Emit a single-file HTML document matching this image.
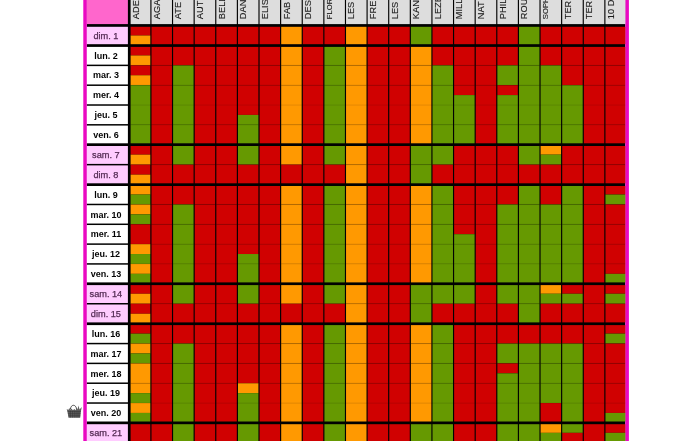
<!DOCTYPE html>
<html><head><meta charset="utf-8"><title>Planning</title>
<style>html,body{margin:0;padding:0;background:#fff;overflow:hidden}body{width:700px;height:441px;font-family:"Liberation Sans",sans-serif}</style></head>
<body>
<svg width="700" height="441" viewBox="0 0 700 441" style="display:block;opacity:0.999">
<defs><filter id="b" color-interpolation-filters="sRGB" filterUnits="userSpaceOnUse" x="-20" y="-20" width="740" height="481"><feGaussianBlur stdDeviation="0.42"/></filter></defs>
<rect x="0" y="0" width="700" height="441" fill="#fff"/>
<g filter="url(#b)">
<rect x="-10" y="-10" width="720" height="461" fill="#fff"/>
<rect x="86.85" y="-8" width="538.450" height="457" fill="#000"/>
<rect x="83.3" y="-8" width="3.55" height="457" fill="#ea08c2"/>
<rect x="625.3" y="-8" width="3.6" height="457" fill="#ea08c2"/>
<rect x="86.85" y="-8" width="41.050" height="32.100" fill="#ff66cc"/>
<rect x="86.85" y="26.800" width="41.050" height="17.400" fill="#ffccff"/>
<rect x="86.85" y="46.900" width="41.050" height="17.720" fill="#fff"/>
<rect x="86.85" y="66.120" width="41.050" height="18.320" fill="#fff"/>
<rect x="86.85" y="85.940" width="41.050" height="18.320" fill="#fff"/>
<rect x="86.85" y="105.760" width="41.050" height="18.320" fill="#fff"/>
<rect x="86.85" y="125.580" width="41.050" height="17.720" fill="#fff"/>
<rect x="86.85" y="146.000" width="41.050" height="17.900" fill="#ffccff"/>
<rect x="86.85" y="165.400" width="41.050" height="17.900" fill="#ffccff"/>
<rect x="86.85" y="186.000" width="41.050" height="17.720" fill="#fff"/>
<rect x="86.85" y="205.220" width="41.050" height="18.320" fill="#fff"/>
<rect x="86.85" y="225.040" width="41.050" height="18.320" fill="#fff"/>
<rect x="86.85" y="244.860" width="41.050" height="18.320" fill="#fff"/>
<rect x="86.85" y="264.680" width="41.050" height="17.720" fill="#fff"/>
<rect x="86.85" y="285.100" width="41.050" height="17.900" fill="#ffccff"/>
<rect x="86.85" y="304.500" width="41.050" height="17.900" fill="#ffccff"/>
<rect x="86.85" y="325.100" width="41.050" height="17.720" fill="#fff"/>
<rect x="86.85" y="344.320" width="41.050" height="18.320" fill="#fff"/>
<rect x="86.85" y="364.140" width="41.050" height="18.320" fill="#fff"/>
<rect x="86.85" y="383.960" width="41.050" height="18.320" fill="#fff"/>
<rect x="86.85" y="403.780" width="41.050" height="17.720" fill="#fff"/>
<rect x="86.85" y="424.200" width="41.050" height="17.900" fill="#ffccff"/>
<rect x="130.600" y="-8" width="19.742" height="32.100" fill="#dddddd"/>
<rect x="130.600" y="26.800" width="19.742" height="8.700" fill="#d00000"/>
<rect x="130.600" y="35.500" width="19.742" height="8.700" fill="#ff9900"/>
<rect x="130.600" y="46.900" width="19.742" height="8.560" fill="#d00000"/>
<rect x="130.600" y="55.460" width="19.742" height="9.910" fill="#ff9900"/>
<rect x="130.600" y="65.370" width="19.742" height="9.910" fill="#d00000"/>
<rect x="130.600" y="75.280" width="19.742" height="9.910" fill="#ff9900"/>
<rect x="130.600" y="85.190" width="19.742" height="19.820" fill="#669900"/>
<rect x="130.600" y="105.010" width="19.742" height="19.820" fill="#669900"/>
<rect x="130.600" y="124.830" width="19.742" height="18.470" fill="#669900"/>
<rect x="130.600" y="146.000" width="19.742" height="8.650" fill="#d00000"/>
<rect x="130.600" y="154.650" width="19.742" height="10.000" fill="#ff9900"/>
<rect x="130.600" y="164.650" width="19.742" height="10.000" fill="#d00000"/>
<rect x="130.600" y="174.650" width="19.742" height="8.650" fill="#ff9900"/>
<rect x="130.600" y="186.000" width="19.742" height="8.560" fill="#ff9900"/>
<rect x="130.600" y="194.560" width="19.742" height="9.910" fill="#669900"/>
<rect x="130.600" y="204.470" width="19.742" height="9.910" fill="#ff9900"/>
<rect x="130.600" y="214.380" width="19.742" height="9.910" fill="#669900"/>
<rect x="130.600" y="224.290" width="19.742" height="19.820" fill="#d00000"/>
<rect x="130.600" y="244.110" width="19.742" height="9.910" fill="#ff9900"/>
<rect x="130.600" y="254.020" width="19.742" height="9.910" fill="#669900"/>
<rect x="130.600" y="263.930" width="19.742" height="9.910" fill="#ff9900"/>
<rect x="130.600" y="273.840" width="19.742" height="8.560" fill="#669900"/>
<rect x="130.600" y="285.100" width="19.742" height="8.650" fill="#d00000"/>
<rect x="130.600" y="293.750" width="19.742" height="10.000" fill="#ff9900"/>
<rect x="130.600" y="303.750" width="19.742" height="10.000" fill="#d00000"/>
<rect x="130.600" y="313.750" width="19.742" height="8.650" fill="#ff9900"/>
<rect x="130.600" y="325.100" width="19.742" height="8.560" fill="#d00000"/>
<rect x="130.600" y="333.660" width="19.742" height="9.910" fill="#669900"/>
<rect x="130.600" y="343.570" width="19.742" height="9.910" fill="#ff9900"/>
<rect x="130.600" y="353.480" width="19.742" height="9.910" fill="#669900"/>
<rect x="130.600" y="363.390" width="19.742" height="19.820" fill="#ff9900"/>
<rect x="130.600" y="383.210" width="19.742" height="9.910" fill="#ff9900"/>
<rect x="130.600" y="393.120" width="19.742" height="9.910" fill="#669900"/>
<rect x="130.600" y="403.030" width="19.742" height="9.910" fill="#ff9900"/>
<rect x="130.600" y="412.940" width="19.742" height="8.560" fill="#669900"/>
<rect x="130.600" y="424.200" width="19.742" height="18.650" fill="#d00000"/>
<rect x="151.492" y="-8" width="20.467" height="32.100" fill="#dddddd"/>
<rect x="151.492" y="26.800" width="20.467" height="17.400" fill="#d00000"/>
<rect x="151.492" y="46.900" width="20.467" height="18.470" fill="#d00000"/>
<rect x="151.492" y="65.370" width="20.467" height="19.820" fill="#d00000"/>
<rect x="151.492" y="85.190" width="20.467" height="19.820" fill="#d00000"/>
<rect x="151.492" y="105.010" width="20.467" height="19.820" fill="#d00000"/>
<rect x="151.492" y="124.830" width="20.467" height="18.470" fill="#d00000"/>
<rect x="151.492" y="146.000" width="20.467" height="18.650" fill="#d00000"/>
<rect x="151.492" y="164.650" width="20.467" height="18.650" fill="#d00000"/>
<rect x="151.492" y="186.000" width="20.467" height="18.470" fill="#d00000"/>
<rect x="151.492" y="204.470" width="20.467" height="19.820" fill="#d00000"/>
<rect x="151.492" y="224.290" width="20.467" height="19.820" fill="#d00000"/>
<rect x="151.492" y="244.110" width="20.467" height="19.820" fill="#d00000"/>
<rect x="151.492" y="263.930" width="20.467" height="18.470" fill="#d00000"/>
<rect x="151.492" y="285.100" width="20.467" height="18.650" fill="#d00000"/>
<rect x="151.492" y="303.750" width="20.467" height="18.650" fill="#d00000"/>
<rect x="151.492" y="325.100" width="20.467" height="18.470" fill="#d00000"/>
<rect x="151.492" y="343.570" width="20.467" height="19.820" fill="#d00000"/>
<rect x="151.492" y="363.390" width="20.467" height="19.820" fill="#d00000"/>
<rect x="151.492" y="383.210" width="20.467" height="19.820" fill="#d00000"/>
<rect x="151.492" y="403.030" width="20.467" height="18.470" fill="#d00000"/>
<rect x="151.492" y="424.200" width="20.467" height="18.650" fill="#d00000"/>
<rect x="173.109" y="-8" width="20.467" height="32.100" fill="#dddddd"/>
<rect x="173.109" y="26.800" width="20.467" height="17.400" fill="#d00000"/>
<rect x="173.109" y="46.900" width="20.467" height="18.470" fill="#d00000"/>
<rect x="173.109" y="65.370" width="20.467" height="19.820" fill="#669900"/>
<rect x="173.109" y="85.190" width="20.467" height="19.820" fill="#669900"/>
<rect x="173.109" y="105.010" width="20.467" height="19.820" fill="#669900"/>
<rect x="173.109" y="124.830" width="20.467" height="18.470" fill="#669900"/>
<rect x="173.109" y="146.000" width="20.467" height="18.650" fill="#669900"/>
<rect x="173.109" y="164.650" width="20.467" height="18.650" fill="#d00000"/>
<rect x="173.109" y="186.000" width="20.467" height="18.470" fill="#d00000"/>
<rect x="173.109" y="204.470" width="20.467" height="19.820" fill="#669900"/>
<rect x="173.109" y="224.290" width="20.467" height="19.820" fill="#669900"/>
<rect x="173.109" y="244.110" width="20.467" height="19.820" fill="#669900"/>
<rect x="173.109" y="263.930" width="20.467" height="18.470" fill="#669900"/>
<rect x="173.109" y="285.100" width="20.467" height="18.650" fill="#669900"/>
<rect x="173.109" y="303.750" width="20.467" height="18.650" fill="#d00000"/>
<rect x="173.109" y="325.100" width="20.467" height="18.470" fill="#d00000"/>
<rect x="173.109" y="343.570" width="20.467" height="19.820" fill="#669900"/>
<rect x="173.109" y="363.390" width="20.467" height="19.820" fill="#669900"/>
<rect x="173.109" y="383.210" width="20.467" height="19.820" fill="#669900"/>
<rect x="173.109" y="403.030" width="20.467" height="18.470" fill="#669900"/>
<rect x="173.109" y="424.200" width="20.467" height="18.650" fill="#669900"/>
<rect x="194.726" y="-8" width="20.467" height="32.100" fill="#dddddd"/>
<rect x="194.726" y="26.800" width="20.467" height="17.400" fill="#d00000"/>
<rect x="194.726" y="46.900" width="20.467" height="18.470" fill="#d00000"/>
<rect x="194.726" y="65.370" width="20.467" height="19.820" fill="#d00000"/>
<rect x="194.726" y="85.190" width="20.467" height="19.820" fill="#d00000"/>
<rect x="194.726" y="105.010" width="20.467" height="19.820" fill="#d00000"/>
<rect x="194.726" y="124.830" width="20.467" height="18.470" fill="#d00000"/>
<rect x="194.726" y="146.000" width="20.467" height="18.650" fill="#d00000"/>
<rect x="194.726" y="164.650" width="20.467" height="18.650" fill="#d00000"/>
<rect x="194.726" y="186.000" width="20.467" height="18.470" fill="#d00000"/>
<rect x="194.726" y="204.470" width="20.467" height="19.820" fill="#d00000"/>
<rect x="194.726" y="224.290" width="20.467" height="19.820" fill="#d00000"/>
<rect x="194.726" y="244.110" width="20.467" height="19.820" fill="#d00000"/>
<rect x="194.726" y="263.930" width="20.467" height="18.470" fill="#d00000"/>
<rect x="194.726" y="285.100" width="20.467" height="18.650" fill="#d00000"/>
<rect x="194.726" y="303.750" width="20.467" height="18.650" fill="#d00000"/>
<rect x="194.726" y="325.100" width="20.467" height="18.470" fill="#d00000"/>
<rect x="194.726" y="343.570" width="20.467" height="19.820" fill="#d00000"/>
<rect x="194.726" y="363.390" width="20.467" height="19.820" fill="#d00000"/>
<rect x="194.726" y="383.210" width="20.467" height="19.820" fill="#d00000"/>
<rect x="194.726" y="403.030" width="20.467" height="18.470" fill="#d00000"/>
<rect x="194.726" y="424.200" width="20.467" height="18.650" fill="#d00000"/>
<rect x="216.343" y="-8" width="20.467" height="32.100" fill="#dddddd"/>
<rect x="216.343" y="26.800" width="20.467" height="17.400" fill="#d00000"/>
<rect x="216.343" y="46.900" width="20.467" height="18.470" fill="#d00000"/>
<rect x="216.343" y="65.370" width="20.467" height="19.820" fill="#d00000"/>
<rect x="216.343" y="85.190" width="20.467" height="19.820" fill="#d00000"/>
<rect x="216.343" y="105.010" width="20.467" height="19.820" fill="#d00000"/>
<rect x="216.343" y="124.830" width="20.467" height="18.470" fill="#d00000"/>
<rect x="216.343" y="146.000" width="20.467" height="18.650" fill="#d00000"/>
<rect x="216.343" y="164.650" width="20.467" height="18.650" fill="#d00000"/>
<rect x="216.343" y="186.000" width="20.467" height="18.470" fill="#d00000"/>
<rect x="216.343" y="204.470" width="20.467" height="19.820" fill="#d00000"/>
<rect x="216.343" y="224.290" width="20.467" height="19.820" fill="#d00000"/>
<rect x="216.343" y="244.110" width="20.467" height="19.820" fill="#d00000"/>
<rect x="216.343" y="263.930" width="20.467" height="18.470" fill="#d00000"/>
<rect x="216.343" y="285.100" width="20.467" height="18.650" fill="#d00000"/>
<rect x="216.343" y="303.750" width="20.467" height="18.650" fill="#d00000"/>
<rect x="216.343" y="325.100" width="20.467" height="18.470" fill="#d00000"/>
<rect x="216.343" y="343.570" width="20.467" height="19.820" fill="#d00000"/>
<rect x="216.343" y="363.390" width="20.467" height="19.820" fill="#d00000"/>
<rect x="216.343" y="383.210" width="20.467" height="19.820" fill="#d00000"/>
<rect x="216.343" y="403.030" width="20.467" height="18.470" fill="#d00000"/>
<rect x="216.343" y="424.200" width="20.467" height="18.650" fill="#d00000"/>
<rect x="237.960" y="-8" width="20.467" height="32.100" fill="#dddddd"/>
<rect x="237.960" y="26.800" width="20.467" height="17.400" fill="#d00000"/>
<rect x="237.960" y="46.900" width="20.467" height="18.470" fill="#d00000"/>
<rect x="237.960" y="65.370" width="20.467" height="19.820" fill="#d00000"/>
<rect x="237.960" y="85.190" width="20.467" height="19.820" fill="#d00000"/>
<rect x="237.960" y="105.010" width="20.467" height="9.910" fill="#d00000"/>
<rect x="237.960" y="114.920" width="20.467" height="9.910" fill="#669900"/>
<rect x="237.960" y="124.830" width="20.467" height="18.470" fill="#669900"/>
<rect x="237.960" y="146.000" width="20.467" height="18.650" fill="#669900"/>
<rect x="237.960" y="164.650" width="20.467" height="18.650" fill="#d00000"/>
<rect x="237.960" y="186.000" width="20.467" height="18.470" fill="#d00000"/>
<rect x="237.960" y="204.470" width="20.467" height="19.820" fill="#d00000"/>
<rect x="237.960" y="224.290" width="20.467" height="19.820" fill="#d00000"/>
<rect x="237.960" y="244.110" width="20.467" height="9.910" fill="#d00000"/>
<rect x="237.960" y="254.020" width="20.467" height="9.910" fill="#669900"/>
<rect x="237.960" y="263.930" width="20.467" height="18.470" fill="#669900"/>
<rect x="237.960" y="285.100" width="20.467" height="18.650" fill="#669900"/>
<rect x="237.960" y="303.750" width="20.467" height="18.650" fill="#d00000"/>
<rect x="237.960" y="325.100" width="20.467" height="18.470" fill="#d00000"/>
<rect x="237.960" y="343.570" width="20.467" height="19.820" fill="#d00000"/>
<rect x="237.960" y="363.390" width="20.467" height="19.820" fill="#d00000"/>
<rect x="237.960" y="383.210" width="20.467" height="9.910" fill="#ff9900"/>
<rect x="237.960" y="393.120" width="20.467" height="9.910" fill="#669900"/>
<rect x="237.960" y="403.030" width="20.467" height="18.470" fill="#669900"/>
<rect x="237.960" y="424.200" width="20.467" height="18.650" fill="#669900"/>
<rect x="259.577" y="-8" width="20.467" height="32.100" fill="#dddddd"/>
<rect x="259.577" y="26.800" width="20.467" height="17.400" fill="#d00000"/>
<rect x="259.577" y="46.900" width="20.467" height="18.470" fill="#d00000"/>
<rect x="259.577" y="65.370" width="20.467" height="19.820" fill="#d00000"/>
<rect x="259.577" y="85.190" width="20.467" height="19.820" fill="#d00000"/>
<rect x="259.577" y="105.010" width="20.467" height="19.820" fill="#d00000"/>
<rect x="259.577" y="124.830" width="20.467" height="18.470" fill="#d00000"/>
<rect x="259.577" y="146.000" width="20.467" height="18.650" fill="#d00000"/>
<rect x="259.577" y="164.650" width="20.467" height="18.650" fill="#d00000"/>
<rect x="259.577" y="186.000" width="20.467" height="18.470" fill="#d00000"/>
<rect x="259.577" y="204.470" width="20.467" height="19.820" fill="#d00000"/>
<rect x="259.577" y="224.290" width="20.467" height="19.820" fill="#d00000"/>
<rect x="259.577" y="244.110" width="20.467" height="19.820" fill="#d00000"/>
<rect x="259.577" y="263.930" width="20.467" height="18.470" fill="#d00000"/>
<rect x="259.577" y="285.100" width="20.467" height="18.650" fill="#d00000"/>
<rect x="259.577" y="303.750" width="20.467" height="18.650" fill="#d00000"/>
<rect x="259.577" y="325.100" width="20.467" height="18.470" fill="#d00000"/>
<rect x="259.577" y="343.570" width="20.467" height="19.820" fill="#d00000"/>
<rect x="259.577" y="363.390" width="20.467" height="19.820" fill="#d00000"/>
<rect x="259.577" y="383.210" width="20.467" height="19.820" fill="#d00000"/>
<rect x="259.577" y="403.030" width="20.467" height="18.470" fill="#d00000"/>
<rect x="259.577" y="424.200" width="20.467" height="18.650" fill="#d00000"/>
<rect x="281.194" y="-8" width="20.467" height="32.100" fill="#dddddd"/>
<rect x="281.194" y="26.800" width="20.467" height="17.400" fill="#ff9900"/>
<rect x="281.194" y="46.900" width="20.467" height="18.470" fill="#ff9900"/>
<rect x="281.194" y="65.370" width="20.467" height="19.820" fill="#ff9900"/>
<rect x="281.194" y="85.190" width="20.467" height="19.820" fill="#ff9900"/>
<rect x="281.194" y="105.010" width="20.467" height="19.820" fill="#ff9900"/>
<rect x="281.194" y="124.830" width="20.467" height="18.470" fill="#ff9900"/>
<rect x="281.194" y="146.000" width="20.467" height="18.650" fill="#ff9900"/>
<rect x="281.194" y="164.650" width="20.467" height="18.650" fill="#d00000"/>
<rect x="281.194" y="186.000" width="20.467" height="18.470" fill="#ff9900"/>
<rect x="281.194" y="204.470" width="20.467" height="19.820" fill="#ff9900"/>
<rect x="281.194" y="224.290" width="20.467" height="19.820" fill="#ff9900"/>
<rect x="281.194" y="244.110" width="20.467" height="19.820" fill="#ff9900"/>
<rect x="281.194" y="263.930" width="20.467" height="18.470" fill="#ff9900"/>
<rect x="281.194" y="285.100" width="20.467" height="18.650" fill="#ff9900"/>
<rect x="281.194" y="303.750" width="20.467" height="18.650" fill="#d00000"/>
<rect x="281.194" y="325.100" width="20.467" height="18.470" fill="#ff9900"/>
<rect x="281.194" y="343.570" width="20.467" height="19.820" fill="#ff9900"/>
<rect x="281.194" y="363.390" width="20.467" height="19.820" fill="#ff9900"/>
<rect x="281.194" y="383.210" width="20.467" height="19.820" fill="#ff9900"/>
<rect x="281.194" y="403.030" width="20.467" height="18.470" fill="#ff9900"/>
<rect x="281.194" y="424.200" width="20.467" height="18.650" fill="#ff9900"/>
<rect x="302.811" y="-8" width="20.467" height="32.100" fill="#dddddd"/>
<rect x="302.811" y="26.800" width="20.467" height="17.400" fill="#d00000"/>
<rect x="302.811" y="46.900" width="20.467" height="18.470" fill="#d00000"/>
<rect x="302.811" y="65.370" width="20.467" height="19.820" fill="#d00000"/>
<rect x="302.811" y="85.190" width="20.467" height="19.820" fill="#d00000"/>
<rect x="302.811" y="105.010" width="20.467" height="19.820" fill="#d00000"/>
<rect x="302.811" y="124.830" width="20.467" height="18.470" fill="#d00000"/>
<rect x="302.811" y="146.000" width="20.467" height="18.650" fill="#d00000"/>
<rect x="302.811" y="164.650" width="20.467" height="18.650" fill="#d00000"/>
<rect x="302.811" y="186.000" width="20.467" height="18.470" fill="#d00000"/>
<rect x="302.811" y="204.470" width="20.467" height="19.820" fill="#d00000"/>
<rect x="302.811" y="224.290" width="20.467" height="19.820" fill="#d00000"/>
<rect x="302.811" y="244.110" width="20.467" height="19.820" fill="#d00000"/>
<rect x="302.811" y="263.930" width="20.467" height="18.470" fill="#d00000"/>
<rect x="302.811" y="285.100" width="20.467" height="18.650" fill="#d00000"/>
<rect x="302.811" y="303.750" width="20.467" height="18.650" fill="#d00000"/>
<rect x="302.811" y="325.100" width="20.467" height="18.470" fill="#d00000"/>
<rect x="302.811" y="343.570" width="20.467" height="19.820" fill="#d00000"/>
<rect x="302.811" y="363.390" width="20.467" height="19.820" fill="#d00000"/>
<rect x="302.811" y="383.210" width="20.467" height="19.820" fill="#d00000"/>
<rect x="302.811" y="403.030" width="20.467" height="18.470" fill="#d00000"/>
<rect x="302.811" y="424.200" width="20.467" height="18.650" fill="#d00000"/>
<rect x="324.428" y="-8" width="20.467" height="32.100" fill="#dddddd"/>
<rect x="324.428" y="26.800" width="20.467" height="17.400" fill="#d00000"/>
<rect x="324.428" y="46.900" width="20.467" height="18.470" fill="#669900"/>
<rect x="324.428" y="65.370" width="20.467" height="19.820" fill="#669900"/>
<rect x="324.428" y="85.190" width="20.467" height="19.820" fill="#669900"/>
<rect x="324.428" y="105.010" width="20.467" height="19.820" fill="#669900"/>
<rect x="324.428" y="124.830" width="20.467" height="18.470" fill="#669900"/>
<rect x="324.428" y="146.000" width="20.467" height="18.650" fill="#669900"/>
<rect x="324.428" y="164.650" width="20.467" height="18.650" fill="#d00000"/>
<rect x="324.428" y="186.000" width="20.467" height="18.470" fill="#669900"/>
<rect x="324.428" y="204.470" width="20.467" height="19.820" fill="#669900"/>
<rect x="324.428" y="224.290" width="20.467" height="19.820" fill="#669900"/>
<rect x="324.428" y="244.110" width="20.467" height="19.820" fill="#669900"/>
<rect x="324.428" y="263.930" width="20.467" height="18.470" fill="#669900"/>
<rect x="324.428" y="285.100" width="20.467" height="18.650" fill="#669900"/>
<rect x="324.428" y="303.750" width="20.467" height="18.650" fill="#d00000"/>
<rect x="324.428" y="325.100" width="20.467" height="18.470" fill="#669900"/>
<rect x="324.428" y="343.570" width="20.467" height="19.820" fill="#669900"/>
<rect x="324.428" y="363.390" width="20.467" height="19.820" fill="#669900"/>
<rect x="324.428" y="383.210" width="20.467" height="19.820" fill="#669900"/>
<rect x="324.428" y="403.030" width="20.467" height="18.470" fill="#669900"/>
<rect x="324.428" y="424.200" width="20.467" height="18.650" fill="#669900"/>
<rect x="346.045" y="-8" width="20.467" height="32.100" fill="#dddddd"/>
<rect x="346.045" y="26.800" width="20.467" height="17.400" fill="#ff9900"/>
<rect x="346.045" y="46.900" width="20.467" height="18.470" fill="#ff9900"/>
<rect x="346.045" y="65.370" width="20.467" height="19.820" fill="#ff9900"/>
<rect x="346.045" y="85.190" width="20.467" height="19.820" fill="#ff9900"/>
<rect x="346.045" y="105.010" width="20.467" height="19.820" fill="#ff9900"/>
<rect x="346.045" y="124.830" width="20.467" height="18.470" fill="#ff9900"/>
<rect x="346.045" y="146.000" width="20.467" height="18.650" fill="#ff9900"/>
<rect x="346.045" y="164.650" width="20.467" height="18.650" fill="#ff9900"/>
<rect x="346.045" y="186.000" width="20.467" height="18.470" fill="#ff9900"/>
<rect x="346.045" y="204.470" width="20.467" height="19.820" fill="#ff9900"/>
<rect x="346.045" y="224.290" width="20.467" height="19.820" fill="#ff9900"/>
<rect x="346.045" y="244.110" width="20.467" height="19.820" fill="#ff9900"/>
<rect x="346.045" y="263.930" width="20.467" height="18.470" fill="#ff9900"/>
<rect x="346.045" y="285.100" width="20.467" height="18.650" fill="#ff9900"/>
<rect x="346.045" y="303.750" width="20.467" height="18.650" fill="#ff9900"/>
<rect x="346.045" y="325.100" width="20.467" height="18.470" fill="#ff9900"/>
<rect x="346.045" y="343.570" width="20.467" height="19.820" fill="#ff9900"/>
<rect x="346.045" y="363.390" width="20.467" height="19.820" fill="#ff9900"/>
<rect x="346.045" y="383.210" width="20.467" height="19.820" fill="#ff9900"/>
<rect x="346.045" y="403.030" width="20.467" height="18.470" fill="#ff9900"/>
<rect x="346.045" y="424.200" width="20.467" height="18.650" fill="#ff9900"/>
<rect x="367.662" y="-8" width="20.467" height="32.100" fill="#dddddd"/>
<rect x="367.662" y="26.800" width="20.467" height="17.400" fill="#d00000"/>
<rect x="367.662" y="46.900" width="20.467" height="18.470" fill="#d00000"/>
<rect x="367.662" y="65.370" width="20.467" height="19.820" fill="#d00000"/>
<rect x="367.662" y="85.190" width="20.467" height="19.820" fill="#d00000"/>
<rect x="367.662" y="105.010" width="20.467" height="19.820" fill="#d00000"/>
<rect x="367.662" y="124.830" width="20.467" height="18.470" fill="#d00000"/>
<rect x="367.662" y="146.000" width="20.467" height="18.650" fill="#d00000"/>
<rect x="367.662" y="164.650" width="20.467" height="18.650" fill="#d00000"/>
<rect x="367.662" y="186.000" width="20.467" height="18.470" fill="#d00000"/>
<rect x="367.662" y="204.470" width="20.467" height="19.820" fill="#d00000"/>
<rect x="367.662" y="224.290" width="20.467" height="19.820" fill="#d00000"/>
<rect x="367.662" y="244.110" width="20.467" height="19.820" fill="#d00000"/>
<rect x="367.662" y="263.930" width="20.467" height="18.470" fill="#d00000"/>
<rect x="367.662" y="285.100" width="20.467" height="18.650" fill="#d00000"/>
<rect x="367.662" y="303.750" width="20.467" height="18.650" fill="#d00000"/>
<rect x="367.662" y="325.100" width="20.467" height="18.470" fill="#d00000"/>
<rect x="367.662" y="343.570" width="20.467" height="19.820" fill="#d00000"/>
<rect x="367.662" y="363.390" width="20.467" height="19.820" fill="#d00000"/>
<rect x="367.662" y="383.210" width="20.467" height="19.820" fill="#d00000"/>
<rect x="367.662" y="403.030" width="20.467" height="18.470" fill="#d00000"/>
<rect x="367.662" y="424.200" width="20.467" height="18.650" fill="#d00000"/>
<rect x="389.279" y="-8" width="20.467" height="32.100" fill="#dddddd"/>
<rect x="389.279" y="26.800" width="20.467" height="17.400" fill="#d00000"/>
<rect x="389.279" y="46.900" width="20.467" height="18.470" fill="#d00000"/>
<rect x="389.279" y="65.370" width="20.467" height="19.820" fill="#d00000"/>
<rect x="389.279" y="85.190" width="20.467" height="19.820" fill="#d00000"/>
<rect x="389.279" y="105.010" width="20.467" height="19.820" fill="#d00000"/>
<rect x="389.279" y="124.830" width="20.467" height="18.470" fill="#d00000"/>
<rect x="389.279" y="146.000" width="20.467" height="18.650" fill="#d00000"/>
<rect x="389.279" y="164.650" width="20.467" height="18.650" fill="#d00000"/>
<rect x="389.279" y="186.000" width="20.467" height="18.470" fill="#d00000"/>
<rect x="389.279" y="204.470" width="20.467" height="19.820" fill="#d00000"/>
<rect x="389.279" y="224.290" width="20.467" height="19.820" fill="#d00000"/>
<rect x="389.279" y="244.110" width="20.467" height="19.820" fill="#d00000"/>
<rect x="389.279" y="263.930" width="20.467" height="18.470" fill="#d00000"/>
<rect x="389.279" y="285.100" width="20.467" height="18.650" fill="#d00000"/>
<rect x="389.279" y="303.750" width="20.467" height="18.650" fill="#d00000"/>
<rect x="389.279" y="325.100" width="20.467" height="18.470" fill="#d00000"/>
<rect x="389.279" y="343.570" width="20.467" height="19.820" fill="#d00000"/>
<rect x="389.279" y="363.390" width="20.467" height="19.820" fill="#d00000"/>
<rect x="389.279" y="383.210" width="20.467" height="19.820" fill="#d00000"/>
<rect x="389.279" y="403.030" width="20.467" height="18.470" fill="#d00000"/>
<rect x="389.279" y="424.200" width="20.467" height="18.650" fill="#d00000"/>
<rect x="410.896" y="-8" width="20.467" height="32.100" fill="#dddddd"/>
<rect x="410.896" y="26.800" width="20.467" height="17.400" fill="#669900"/>
<rect x="410.896" y="46.900" width="20.467" height="18.470" fill="#ff9900"/>
<rect x="410.896" y="65.370" width="20.467" height="19.820" fill="#ff9900"/>
<rect x="410.896" y="85.190" width="20.467" height="19.820" fill="#ff9900"/>
<rect x="410.896" y="105.010" width="20.467" height="19.820" fill="#ff9900"/>
<rect x="410.896" y="124.830" width="20.467" height="18.470" fill="#ff9900"/>
<rect x="410.896" y="146.000" width="20.467" height="18.650" fill="#669900"/>
<rect x="410.896" y="164.650" width="20.467" height="18.650" fill="#669900"/>
<rect x="410.896" y="186.000" width="20.467" height="18.470" fill="#ff9900"/>
<rect x="410.896" y="204.470" width="20.467" height="19.820" fill="#ff9900"/>
<rect x="410.896" y="224.290" width="20.467" height="19.820" fill="#ff9900"/>
<rect x="410.896" y="244.110" width="20.467" height="19.820" fill="#ff9900"/>
<rect x="410.896" y="263.930" width="20.467" height="18.470" fill="#ff9900"/>
<rect x="410.896" y="285.100" width="20.467" height="18.650" fill="#669900"/>
<rect x="410.896" y="303.750" width="20.467" height="18.650" fill="#669900"/>
<rect x="410.896" y="325.100" width="20.467" height="18.470" fill="#ff9900"/>
<rect x="410.896" y="343.570" width="20.467" height="19.820" fill="#ff9900"/>
<rect x="410.896" y="363.390" width="20.467" height="19.820" fill="#ff9900"/>
<rect x="410.896" y="383.210" width="20.467" height="19.820" fill="#ff9900"/>
<rect x="410.896" y="403.030" width="20.467" height="18.470" fill="#ff9900"/>
<rect x="410.896" y="424.200" width="20.467" height="18.650" fill="#669900"/>
<rect x="432.513" y="-8" width="20.467" height="32.100" fill="#dddddd"/>
<rect x="432.513" y="26.800" width="20.467" height="17.400" fill="#d00000"/>
<rect x="432.513" y="46.900" width="20.467" height="18.470" fill="#d00000"/>
<rect x="432.513" y="65.370" width="20.467" height="19.820" fill="#669900"/>
<rect x="432.513" y="85.190" width="20.467" height="19.820" fill="#669900"/>
<rect x="432.513" y="105.010" width="20.467" height="19.820" fill="#669900"/>
<rect x="432.513" y="124.830" width="20.467" height="18.470" fill="#669900"/>
<rect x="432.513" y="146.000" width="20.467" height="18.650" fill="#669900"/>
<rect x="432.513" y="164.650" width="20.467" height="18.650" fill="#d00000"/>
<rect x="432.513" y="186.000" width="20.467" height="18.470" fill="#669900"/>
<rect x="432.513" y="204.470" width="20.467" height="19.820" fill="#669900"/>
<rect x="432.513" y="224.290" width="20.467" height="19.820" fill="#669900"/>
<rect x="432.513" y="244.110" width="20.467" height="19.820" fill="#669900"/>
<rect x="432.513" y="263.930" width="20.467" height="18.470" fill="#669900"/>
<rect x="432.513" y="285.100" width="20.467" height="18.650" fill="#669900"/>
<rect x="432.513" y="303.750" width="20.467" height="18.650" fill="#d00000"/>
<rect x="432.513" y="325.100" width="20.467" height="18.470" fill="#669900"/>
<rect x="432.513" y="343.570" width="20.467" height="19.820" fill="#669900"/>
<rect x="432.513" y="363.390" width="20.467" height="19.820" fill="#669900"/>
<rect x="432.513" y="383.210" width="20.467" height="19.820" fill="#669900"/>
<rect x="432.513" y="403.030" width="20.467" height="18.470" fill="#669900"/>
<rect x="432.513" y="424.200" width="20.467" height="18.650" fill="#669900"/>
<rect x="454.130" y="-8" width="20.467" height="32.100" fill="#dddddd"/>
<rect x="454.130" y="26.800" width="20.467" height="17.400" fill="#d00000"/>
<rect x="454.130" y="46.900" width="20.467" height="18.470" fill="#d00000"/>
<rect x="454.130" y="65.370" width="20.467" height="19.820" fill="#d00000"/>
<rect x="454.130" y="85.190" width="20.467" height="9.910" fill="#d00000"/>
<rect x="454.130" y="95.100" width="20.467" height="9.910" fill="#669900"/>
<rect x="454.130" y="105.010" width="20.467" height="19.820" fill="#669900"/>
<rect x="454.130" y="124.830" width="20.467" height="18.470" fill="#669900"/>
<rect x="454.130" y="146.000" width="20.467" height="18.650" fill="#d00000"/>
<rect x="454.130" y="164.650" width="20.467" height="18.650" fill="#d00000"/>
<rect x="454.130" y="186.000" width="20.467" height="18.470" fill="#d00000"/>
<rect x="454.130" y="204.470" width="20.467" height="19.820" fill="#d00000"/>
<rect x="454.130" y="224.290" width="20.467" height="9.910" fill="#d00000"/>
<rect x="454.130" y="234.200" width="20.467" height="9.910" fill="#669900"/>
<rect x="454.130" y="244.110" width="20.467" height="19.820" fill="#669900"/>
<rect x="454.130" y="263.930" width="20.467" height="18.470" fill="#669900"/>
<rect x="454.130" y="285.100" width="20.467" height="18.650" fill="#669900"/>
<rect x="454.130" y="303.750" width="20.467" height="18.650" fill="#d00000"/>
<rect x="454.130" y="325.100" width="20.467" height="18.470" fill="#d00000"/>
<rect x="454.130" y="343.570" width="20.467" height="19.820" fill="#d00000"/>
<rect x="454.130" y="363.390" width="20.467" height="19.820" fill="#d00000"/>
<rect x="454.130" y="383.210" width="20.467" height="19.820" fill="#d00000"/>
<rect x="454.130" y="403.030" width="20.467" height="18.470" fill="#d00000"/>
<rect x="454.130" y="424.200" width="20.467" height="18.650" fill="#d00000"/>
<rect x="475.747" y="-8" width="20.467" height="32.100" fill="#dddddd"/>
<rect x="475.747" y="26.800" width="20.467" height="17.400" fill="#d00000"/>
<rect x="475.747" y="46.900" width="20.467" height="18.470" fill="#d00000"/>
<rect x="475.747" y="65.370" width="20.467" height="19.820" fill="#d00000"/>
<rect x="475.747" y="85.190" width="20.467" height="19.820" fill="#d00000"/>
<rect x="475.747" y="105.010" width="20.467" height="19.820" fill="#d00000"/>
<rect x="475.747" y="124.830" width="20.467" height="18.470" fill="#d00000"/>
<rect x="475.747" y="146.000" width="20.467" height="18.650" fill="#d00000"/>
<rect x="475.747" y="164.650" width="20.467" height="18.650" fill="#d00000"/>
<rect x="475.747" y="186.000" width="20.467" height="18.470" fill="#d00000"/>
<rect x="475.747" y="204.470" width="20.467" height="19.820" fill="#d00000"/>
<rect x="475.747" y="224.290" width="20.467" height="19.820" fill="#d00000"/>
<rect x="475.747" y="244.110" width="20.467" height="19.820" fill="#d00000"/>
<rect x="475.747" y="263.930" width="20.467" height="18.470" fill="#d00000"/>
<rect x="475.747" y="285.100" width="20.467" height="18.650" fill="#d00000"/>
<rect x="475.747" y="303.750" width="20.467" height="18.650" fill="#d00000"/>
<rect x="475.747" y="325.100" width="20.467" height="18.470" fill="#d00000"/>
<rect x="475.747" y="343.570" width="20.467" height="19.820" fill="#d00000"/>
<rect x="475.747" y="363.390" width="20.467" height="19.820" fill="#d00000"/>
<rect x="475.747" y="383.210" width="20.467" height="19.820" fill="#d00000"/>
<rect x="475.747" y="403.030" width="20.467" height="18.470" fill="#d00000"/>
<rect x="475.747" y="424.200" width="20.467" height="18.650" fill="#d00000"/>
<rect x="497.364" y="-8" width="20.467" height="32.100" fill="#dddddd"/>
<rect x="497.364" y="26.800" width="20.467" height="17.400" fill="#d00000"/>
<rect x="497.364" y="46.900" width="20.467" height="18.470" fill="#d00000"/>
<rect x="497.364" y="65.370" width="20.467" height="19.820" fill="#669900"/>
<rect x="497.364" y="85.190" width="20.467" height="9.910" fill="#d00000"/>
<rect x="497.364" y="95.100" width="20.467" height="9.910" fill="#669900"/>
<rect x="497.364" y="105.010" width="20.467" height="19.820" fill="#669900"/>
<rect x="497.364" y="124.830" width="20.467" height="18.470" fill="#669900"/>
<rect x="497.364" y="146.000" width="20.467" height="18.650" fill="#d00000"/>
<rect x="497.364" y="164.650" width="20.467" height="18.650" fill="#d00000"/>
<rect x="497.364" y="186.000" width="20.467" height="18.470" fill="#d00000"/>
<rect x="497.364" y="204.470" width="20.467" height="19.820" fill="#669900"/>
<rect x="497.364" y="224.290" width="20.467" height="19.820" fill="#669900"/>
<rect x="497.364" y="244.110" width="20.467" height="19.820" fill="#669900"/>
<rect x="497.364" y="263.930" width="20.467" height="18.470" fill="#669900"/>
<rect x="497.364" y="285.100" width="20.467" height="18.650" fill="#669900"/>
<rect x="497.364" y="303.750" width="20.467" height="18.650" fill="#d00000"/>
<rect x="497.364" y="325.100" width="20.467" height="18.470" fill="#d00000"/>
<rect x="497.364" y="343.570" width="20.467" height="19.820" fill="#669900"/>
<rect x="497.364" y="363.390" width="20.467" height="9.910" fill="#d00000"/>
<rect x="497.364" y="373.300" width="20.467" height="9.910" fill="#669900"/>
<rect x="497.364" y="383.210" width="20.467" height="19.820" fill="#669900"/>
<rect x="497.364" y="403.030" width="20.467" height="18.470" fill="#669900"/>
<rect x="497.364" y="424.200" width="20.467" height="18.650" fill="#669900"/>
<rect x="518.981" y="-8" width="20.467" height="32.100" fill="#dddddd"/>
<rect x="518.981" y="26.800" width="20.467" height="17.400" fill="#669900"/>
<rect x="518.981" y="46.900" width="20.467" height="18.470" fill="#669900"/>
<rect x="518.981" y="65.370" width="20.467" height="19.820" fill="#669900"/>
<rect x="518.981" y="85.190" width="20.467" height="19.820" fill="#669900"/>
<rect x="518.981" y="105.010" width="20.467" height="19.820" fill="#669900"/>
<rect x="518.981" y="124.830" width="20.467" height="18.470" fill="#669900"/>
<rect x="518.981" y="146.000" width="20.467" height="18.650" fill="#669900"/>
<rect x="518.981" y="164.650" width="20.467" height="18.650" fill="#d00000"/>
<rect x="518.981" y="186.000" width="20.467" height="18.470" fill="#669900"/>
<rect x="518.981" y="204.470" width="20.467" height="19.820" fill="#669900"/>
<rect x="518.981" y="224.290" width="20.467" height="19.820" fill="#669900"/>
<rect x="518.981" y="244.110" width="20.467" height="19.820" fill="#669900"/>
<rect x="518.981" y="263.930" width="20.467" height="18.470" fill="#669900"/>
<rect x="518.981" y="285.100" width="20.467" height="18.650" fill="#669900"/>
<rect x="518.981" y="303.750" width="20.467" height="18.650" fill="#669900"/>
<rect x="518.981" y="325.100" width="20.467" height="18.470" fill="#d00000"/>
<rect x="518.981" y="343.570" width="20.467" height="19.820" fill="#669900"/>
<rect x="518.981" y="363.390" width="20.467" height="19.820" fill="#669900"/>
<rect x="518.981" y="383.210" width="20.467" height="19.820" fill="#669900"/>
<rect x="518.981" y="403.030" width="20.467" height="18.470" fill="#669900"/>
<rect x="518.981" y="424.200" width="20.467" height="18.650" fill="#669900"/>
<rect x="540.598" y="-8" width="20.467" height="32.100" fill="#dddddd"/>
<rect x="540.598" y="26.800" width="20.467" height="17.400" fill="#d00000"/>
<rect x="540.598" y="46.900" width="20.467" height="18.470" fill="#d00000"/>
<rect x="540.598" y="65.370" width="20.467" height="19.820" fill="#669900"/>
<rect x="540.598" y="85.190" width="20.467" height="19.820" fill="#669900"/>
<rect x="540.598" y="105.010" width="20.467" height="19.820" fill="#669900"/>
<rect x="540.598" y="124.830" width="20.467" height="18.470" fill="#669900"/>
<rect x="540.598" y="146.000" width="20.467" height="8.650" fill="#ff9900"/>
<rect x="540.598" y="154.650" width="20.467" height="10.000" fill="#669900"/>
<rect x="540.598" y="164.650" width="20.467" height="18.650" fill="#d00000"/>
<rect x="540.598" y="186.000" width="20.467" height="18.470" fill="#d00000"/>
<rect x="540.598" y="204.470" width="20.467" height="19.820" fill="#669900"/>
<rect x="540.598" y="224.290" width="20.467" height="19.820" fill="#669900"/>
<rect x="540.598" y="244.110" width="20.467" height="19.820" fill="#669900"/>
<rect x="540.598" y="263.930" width="20.467" height="18.470" fill="#669900"/>
<rect x="540.598" y="285.100" width="20.467" height="8.650" fill="#ff9900"/>
<rect x="540.598" y="293.750" width="20.467" height="10.000" fill="#669900"/>
<rect x="540.598" y="303.750" width="20.467" height="18.650" fill="#d00000"/>
<rect x="540.598" y="325.100" width="20.467" height="18.470" fill="#d00000"/>
<rect x="540.598" y="343.570" width="20.467" height="19.820" fill="#669900"/>
<rect x="540.598" y="363.390" width="20.467" height="19.820" fill="#669900"/>
<rect x="540.598" y="383.210" width="20.467" height="19.820" fill="#669900"/>
<rect x="540.598" y="403.030" width="20.467" height="18.470" fill="#d00000"/>
<rect x="540.598" y="424.200" width="20.467" height="8.650" fill="#ff9900"/>
<rect x="540.598" y="432.850" width="20.467" height="10.000" fill="#669900"/>
<rect x="562.215" y="-8" width="20.467" height="32.100" fill="#dddddd"/>
<rect x="562.215" y="26.800" width="20.467" height="17.400" fill="#d00000"/>
<rect x="562.215" y="46.900" width="20.467" height="18.470" fill="#d00000"/>
<rect x="562.215" y="65.370" width="20.467" height="19.820" fill="#d00000"/>
<rect x="562.215" y="85.190" width="20.467" height="19.820" fill="#669900"/>
<rect x="562.215" y="105.010" width="20.467" height="19.820" fill="#669900"/>
<rect x="562.215" y="124.830" width="20.467" height="18.470" fill="#669900"/>
<rect x="562.215" y="146.000" width="20.467" height="18.650" fill="#d00000"/>
<rect x="562.215" y="164.650" width="20.467" height="18.650" fill="#d00000"/>
<rect x="562.215" y="186.000" width="20.467" height="18.470" fill="#669900"/>
<rect x="562.215" y="204.470" width="20.467" height="19.820" fill="#669900"/>
<rect x="562.215" y="224.290" width="20.467" height="19.820" fill="#669900"/>
<rect x="562.215" y="244.110" width="20.467" height="19.820" fill="#669900"/>
<rect x="562.215" y="263.930" width="20.467" height="18.470" fill="#669900"/>
<rect x="562.215" y="285.100" width="20.467" height="8.650" fill="#d00000"/>
<rect x="562.215" y="293.750" width="20.467" height="10.000" fill="#669900"/>
<rect x="562.215" y="303.750" width="20.467" height="18.650" fill="#d00000"/>
<rect x="562.215" y="325.100" width="20.467" height="18.470" fill="#d00000"/>
<rect x="562.215" y="343.570" width="20.467" height="19.820" fill="#669900"/>
<rect x="562.215" y="363.390" width="20.467" height="19.820" fill="#669900"/>
<rect x="562.215" y="383.210" width="20.467" height="19.820" fill="#669900"/>
<rect x="562.215" y="403.030" width="20.467" height="18.470" fill="#669900"/>
<rect x="562.215" y="424.200" width="20.467" height="8.650" fill="#669900"/>
<rect x="562.215" y="432.850" width="20.467" height="10.000" fill="#d00000"/>
<rect x="583.832" y="-8" width="20.467" height="32.100" fill="#dddddd"/>
<rect x="583.832" y="26.800" width="20.467" height="17.400" fill="#d00000"/>
<rect x="583.832" y="46.900" width="20.467" height="18.470" fill="#d00000"/>
<rect x="583.832" y="65.370" width="20.467" height="19.820" fill="#d00000"/>
<rect x="583.832" y="85.190" width="20.467" height="19.820" fill="#d00000"/>
<rect x="583.832" y="105.010" width="20.467" height="19.820" fill="#d00000"/>
<rect x="583.832" y="124.830" width="20.467" height="18.470" fill="#d00000"/>
<rect x="583.832" y="146.000" width="20.467" height="18.650" fill="#d00000"/>
<rect x="583.832" y="164.650" width="20.467" height="18.650" fill="#d00000"/>
<rect x="583.832" y="186.000" width="20.467" height="18.470" fill="#d00000"/>
<rect x="583.832" y="204.470" width="20.467" height="19.820" fill="#d00000"/>
<rect x="583.832" y="224.290" width="20.467" height="19.820" fill="#d00000"/>
<rect x="583.832" y="244.110" width="20.467" height="19.820" fill="#d00000"/>
<rect x="583.832" y="263.930" width="20.467" height="18.470" fill="#d00000"/>
<rect x="583.832" y="285.100" width="20.467" height="18.650" fill="#d00000"/>
<rect x="583.832" y="303.750" width="20.467" height="18.650" fill="#d00000"/>
<rect x="583.832" y="325.100" width="20.467" height="18.470" fill="#d00000"/>
<rect x="583.832" y="343.570" width="20.467" height="19.820" fill="#d00000"/>
<rect x="583.832" y="363.390" width="20.467" height="19.820" fill="#d00000"/>
<rect x="583.832" y="383.210" width="20.467" height="19.820" fill="#d00000"/>
<rect x="583.832" y="403.030" width="20.467" height="18.470" fill="#d00000"/>
<rect x="583.832" y="424.200" width="20.467" height="18.650" fill="#d00000"/>
<rect x="605.449" y="-8" width="19.851" height="32.100" fill="#dddddd"/>
<rect x="605.449" y="26.800" width="19.851" height="17.400" fill="#d00000"/>
<rect x="605.449" y="46.900" width="19.851" height="18.470" fill="#d00000"/>
<rect x="605.449" y="65.370" width="19.851" height="19.820" fill="#d00000"/>
<rect x="605.449" y="85.190" width="19.851" height="19.820" fill="#d00000"/>
<rect x="605.449" y="105.010" width="19.851" height="19.820" fill="#d00000"/>
<rect x="605.449" y="124.830" width="19.851" height="18.470" fill="#d00000"/>
<rect x="605.449" y="146.000" width="19.851" height="18.650" fill="#d00000"/>
<rect x="605.449" y="164.650" width="19.851" height="18.650" fill="#d00000"/>
<rect x="605.449" y="186.000" width="19.851" height="8.560" fill="#d00000"/>
<rect x="605.449" y="194.560" width="19.851" height="9.910" fill="#669900"/>
<rect x="605.449" y="204.470" width="19.851" height="19.820" fill="#d00000"/>
<rect x="605.449" y="224.290" width="19.851" height="19.820" fill="#d00000"/>
<rect x="605.449" y="244.110" width="19.851" height="19.820" fill="#d00000"/>
<rect x="605.449" y="263.930" width="19.851" height="9.910" fill="#d00000"/>
<rect x="605.449" y="273.840" width="19.851" height="8.560" fill="#669900"/>
<rect x="605.449" y="285.100" width="19.851" height="8.650" fill="#d00000"/>
<rect x="605.449" y="293.750" width="19.851" height="10.000" fill="#669900"/>
<rect x="605.449" y="303.750" width="19.851" height="18.650" fill="#d00000"/>
<rect x="605.449" y="325.100" width="19.851" height="8.560" fill="#d00000"/>
<rect x="605.449" y="333.660" width="19.851" height="9.910" fill="#669900"/>
<rect x="605.449" y="343.570" width="19.851" height="19.820" fill="#d00000"/>
<rect x="605.449" y="363.390" width="19.851" height="19.820" fill="#d00000"/>
<rect x="605.449" y="383.210" width="19.851" height="19.820" fill="#d00000"/>
<rect x="605.449" y="403.030" width="19.851" height="9.910" fill="#d00000"/>
<rect x="605.449" y="412.940" width="19.851" height="8.560" fill="#669900"/>
<rect x="605.449" y="424.200" width="19.851" height="8.650" fill="#d00000"/>
<rect x="605.449" y="432.850" width="19.851" height="10.000" fill="#669900"/>
<rect x="130.600" y="64.770" width="494.700" height="1.2" fill="#000" fill-opacity="0.08"/>
<rect x="130.600" y="84.590" width="494.700" height="1.2" fill="#000" fill-opacity="0.08"/>
<rect x="130.600" y="104.410" width="494.700" height="1.2" fill="#000" fill-opacity="0.08"/>
<rect x="130.600" y="124.230" width="494.700" height="1.2" fill="#000" fill-opacity="0.08"/>
<rect x="130.600" y="164.050" width="494.700" height="1.2" fill="#000" fill-opacity="0.08"/>
<rect x="130.600" y="203.870" width="494.700" height="1.2" fill="#000" fill-opacity="0.08"/>
<rect x="130.600" y="223.690" width="494.700" height="1.2" fill="#000" fill-opacity="0.08"/>
<rect x="130.600" y="243.510" width="494.700" height="1.2" fill="#000" fill-opacity="0.08"/>
<rect x="130.600" y="263.330" width="494.700" height="1.2" fill="#000" fill-opacity="0.08"/>
<rect x="130.600" y="303.150" width="494.700" height="1.2" fill="#000" fill-opacity="0.08"/>
<rect x="130.600" y="342.970" width="494.700" height="1.2" fill="#000" fill-opacity="0.08"/>
<rect x="130.600" y="362.790" width="494.700" height="1.2" fill="#000" fill-opacity="0.08"/>
<rect x="130.600" y="382.610" width="494.700" height="1.2" fill="#000" fill-opacity="0.08"/>
<rect x="130.600" y="402.430" width="494.700" height="1.2" fill="#000" fill-opacity="0.08"/>
<rect x="130.600" y="442.250" width="494.700" height="1.2" fill="#000" fill-opacity="0.08"/>
<g opacity="0.99">
<text transform="translate(138.92,19.2) rotate(-90)" font-family="Liberation Sans, sans-serif" font-size="9.25" fill="#1a1a1a" stroke="#1a1a1a" stroke-width="0.12">ADE</text>
<text transform="translate(159.81,19.2) rotate(-90)" font-family="Liberation Sans, sans-serif" font-size="9.25" fill="#1a1a1a" stroke="#1a1a1a" stroke-width="0.12">AGA</text>
<text transform="translate(181.43,19.2) rotate(-90)" font-family="Liberation Sans, sans-serif" font-size="9.25" fill="#1a1a1a" stroke="#1a1a1a" stroke-width="0.12">ATE</text>
<text transform="translate(203.05,19.2) rotate(-90)" font-family="Liberation Sans, sans-serif" font-size="9.25" fill="#1a1a1a" stroke="#1a1a1a" stroke-width="0.12">AUT</text>
<text transform="translate(224.67,19.2) rotate(-90)" font-family="Liberation Sans, sans-serif" font-size="9.25" fill="#1a1a1a" stroke="#1a1a1a" stroke-width="0.12">BELL</text>
<text transform="translate(246.28,19.2) rotate(-90)" font-family="Liberation Sans, sans-serif" font-size="9.25" fill="#1a1a1a" stroke="#1a1a1a" stroke-width="0.12">DAN</text>
<text transform="translate(267.90,19.2) rotate(-90)" font-family="Liberation Sans, sans-serif" font-size="9.25" fill="#1a1a1a" stroke="#1a1a1a" stroke-width="0.12">ELIS</text>
<text transform="translate(289.52,19.2) rotate(-90)" font-family="Liberation Sans, sans-serif" font-size="9.25" fill="#1a1a1a" stroke="#1a1a1a" stroke-width="0.12">FAB</text>
<text transform="translate(311.13,19.2) rotate(-90)" font-family="Liberation Sans, sans-serif" font-size="9.25" fill="#1a1a1a" stroke="#1a1a1a" stroke-width="0.12">DES</text>
<text transform="translate(331.64,19.2) rotate(-90)" font-family="Liberation Sans, sans-serif" font-size="7.7" fill="#1a1a1a" stroke="#1a1a1a" stroke-width="0.12">FLOR</text>
<text transform="translate(354.37,19.2) rotate(-90)" font-family="Liberation Sans, sans-serif" font-size="9.25" fill="#1a1a1a" stroke="#1a1a1a" stroke-width="0.12">LES</text>
<text transform="translate(375.98,19.2) rotate(-90)" font-family="Liberation Sans, sans-serif" font-size="9.25" fill="#1a1a1a" stroke="#1a1a1a" stroke-width="0.12">FRE</text>
<text transform="translate(397.60,19.2) rotate(-90)" font-family="Liberation Sans, sans-serif" font-size="9.25" fill="#1a1a1a" stroke="#1a1a1a" stroke-width="0.12">LES</text>
<text transform="translate(419.22,19.2) rotate(-90)" font-family="Liberation Sans, sans-serif" font-size="9.25" fill="#1a1a1a" stroke="#1a1a1a" stroke-width="0.12">KAN</text>
<text transform="translate(440.84,19.2) rotate(-90)" font-family="Liberation Sans, sans-serif" font-size="9.25" fill="#1a1a1a" stroke="#1a1a1a" stroke-width="0.12">LEZE</text>
<text transform="translate(462.45,19.2) rotate(-90)" font-family="Liberation Sans, sans-serif" font-size="9.25" fill="#1a1a1a" stroke="#1a1a1a" stroke-width="0.12">MILL</text>
<text transform="translate(484.07,19.2) rotate(-90)" font-family="Liberation Sans, sans-serif" font-size="9.25" fill="#1a1a1a" stroke="#1a1a1a" stroke-width="0.12">NAT</text>
<text transform="translate(505.69,19.2) rotate(-90)" font-family="Liberation Sans, sans-serif" font-size="9.25" fill="#1a1a1a" stroke="#1a1a1a" stroke-width="0.12">PHIL</text>
<text transform="translate(527.30,19.2) rotate(-90)" font-family="Liberation Sans, sans-serif" font-size="9.25" fill="#1a1a1a" stroke="#1a1a1a" stroke-width="0.12">ROU</text>
<text transform="translate(547.81,19.2) rotate(-90)" font-family="Liberation Sans, sans-serif" font-size="7.7" fill="#1a1a1a" stroke="#1a1a1a" stroke-width="0.12">SOPH</text>
<text transform="translate(570.54,19.2) rotate(-90)" font-family="Liberation Sans, sans-serif" font-size="9.25" fill="#1a1a1a" stroke="#1a1a1a" stroke-width="0.12">TER</text>
<text transform="translate(592.16,19.2) rotate(-90)" font-family="Liberation Sans, sans-serif" font-size="9.25" fill="#1a1a1a" stroke="#1a1a1a" stroke-width="0.12">TER</text>
<text transform="translate(613.77,19.2) rotate(-90)" font-family="Liberation Sans, sans-serif" font-size="9.25" fill="#1a1a1a" stroke="#1a1a1a" stroke-width="0.12">10 D</text>
<text x="105.9" y="38.70" text-anchor="middle" font-family="Liberation Sans, sans-serif" font-size="9.2" fill="#502850" stroke="#502850" stroke-width="0.25">dim. 1</text>
<text x="105.9" y="58.66" text-anchor="middle" font-family="Liberation Sans, sans-serif" font-size="9" font-weight="bold" fill="#000">lun. 2</text>
<text x="105.9" y="78.48" text-anchor="middle" font-family="Liberation Sans, sans-serif" font-size="9" font-weight="bold" fill="#000">mar. 3</text>
<text x="105.9" y="98.30" text-anchor="middle" font-family="Liberation Sans, sans-serif" font-size="9" font-weight="bold" fill="#000">mer. 4</text>
<text x="105.9" y="118.12" text-anchor="middle" font-family="Liberation Sans, sans-serif" font-size="9" font-weight="bold" fill="#000">jeu. 5</text>
<text x="105.9" y="137.94" text-anchor="middle" font-family="Liberation Sans, sans-serif" font-size="9" font-weight="bold" fill="#000">ven. 6</text>
<text x="105.9" y="157.85" text-anchor="middle" font-family="Liberation Sans, sans-serif" font-size="9.2" fill="#502850" stroke="#502850" stroke-width="0.25">sam. 7</text>
<text x="105.9" y="177.85" text-anchor="middle" font-family="Liberation Sans, sans-serif" font-size="9.2" fill="#502850" stroke="#502850" stroke-width="0.25">dim. 8</text>
<text x="105.9" y="197.76" text-anchor="middle" font-family="Liberation Sans, sans-serif" font-size="9" font-weight="bold" fill="#000">lun. 9</text>
<text x="105.9" y="217.58" text-anchor="middle" font-family="Liberation Sans, sans-serif" font-size="9" font-weight="bold" fill="#000">mar. 10</text>
<text x="105.9" y="237.40" text-anchor="middle" font-family="Liberation Sans, sans-serif" font-size="9" font-weight="bold" fill="#000">mer. 11</text>
<text x="105.9" y="257.22" text-anchor="middle" font-family="Liberation Sans, sans-serif" font-size="9" font-weight="bold" fill="#000">jeu. 12</text>
<text x="105.9" y="277.04" text-anchor="middle" font-family="Liberation Sans, sans-serif" font-size="9" font-weight="bold" fill="#000">ven. 13</text>
<text x="105.9" y="296.95" text-anchor="middle" font-family="Liberation Sans, sans-serif" font-size="9.2" fill="#502850" stroke="#502850" stroke-width="0.25">sam. 14</text>
<text x="105.9" y="316.95" text-anchor="middle" font-family="Liberation Sans, sans-serif" font-size="9.2" fill="#502850" stroke="#502850" stroke-width="0.25">dim. 15</text>
<text x="105.9" y="336.86" text-anchor="middle" font-family="Liberation Sans, sans-serif" font-size="9" font-weight="bold" fill="#000">lun. 16</text>
<text x="105.9" y="356.68" text-anchor="middle" font-family="Liberation Sans, sans-serif" font-size="9" font-weight="bold" fill="#000">mar. 17</text>
<text x="105.9" y="376.50" text-anchor="middle" font-family="Liberation Sans, sans-serif" font-size="9" font-weight="bold" fill="#000">mer. 18</text>
<text x="105.9" y="396.32" text-anchor="middle" font-family="Liberation Sans, sans-serif" font-size="9" font-weight="bold" fill="#000">jeu. 19</text>
<text x="105.9" y="416.14" text-anchor="middle" font-family="Liberation Sans, sans-serif" font-size="9" font-weight="bold" fill="#000">ven. 20</text>
<text x="105.9" y="436.05" text-anchor="middle" font-family="Liberation Sans, sans-serif" font-size="9.2" fill="#502850" stroke="#502850" stroke-width="0.25">sam. 21</text>
</g>
<g id="basket">
<path d="M70.3 409.6 C70.6 406.6 72 405.3 73.4 405.3 C75 405.3 76.2 406.6 76.6 409.2" fill="none" stroke="#3a3a3a" stroke-width="0.9"/>
<path d="M66.7 408.9 L68.4 410 L69.2 407.9 L70.4 410 L71.6 408.6 L72.8 410.2 L74.4 409 L75.6 410.2 L76.8 407.6 L77.6 409.6 L78.5 405.4 L79.5 409.4 L81.8 406.9 L80.9 411.5 L80.2 417.8 L68.5 417.8 L67.6 412.5 Z" fill="#5e5e5e"/>
<path d="M67.6 411.6 H81 M67.9 413.7 H80.7 M68.3 415.8 H80.4 M70.4 410.6 V417.6 M72.6 410.6 V417.6 M74.8 410.6 V417.6 M77 410.6 V417.6 M79 410.6 V417.6" stroke="#2e2e2e" stroke-width="0.6" fill="none" opacity="0.8"/>
</g>
</g>
</svg>
</body></html>
